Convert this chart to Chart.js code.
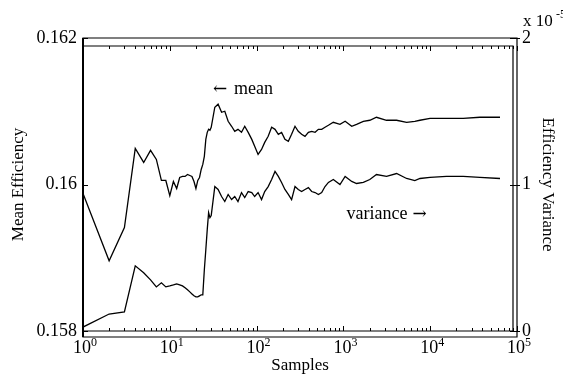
<!DOCTYPE html>
<html>
<head>
<meta charset="utf-8">
<script src="https://cdn.jsdelivr.net/npm/chart.js@4"></script>
<style>
  body { margin: 0; background: #fff; }
  canvas { display: block; }
</style>
</head>
<body>
<canvas id="chart" width="563" height="377"></canvas>
<script>
/* Data */
const samples = [1, 2, 3, 4, 5, 6, 7, 8, 9, 10, 11, 12, 13, 14, 15, 16, 17, 18, 19, 20,
  21, 22, 23, 24, 25, 26, 27, 28, 29, 30, 33, 36, 39.5, 43, 47, 51.5, 56, 61, 67, 73,
  80, 88, 95, 104, 114, 124, 136, 149, 163, 178, 194, 212, 232, 253, 277, 302, 330, 361, 395, 431,
  472, 515, 562, 614, 672, 765, 913, 1047, 1247, 1419, 1697, 2015, 2405, 3140, 4100, 5350, 6650, 7620, 9960, 15400,
  24000, 37400, 63700];

const meanEff = [0.159877, 0.158959, 0.159411, 0.160493, 0.160301, 0.160466, 0.160342, 0.160055, 0.160055, 0.159849,
  0.160041, 0.159945, 0.160096, 0.160110, 0.160110, 0.160137, 0.160123, 0.160110, 0.160041, 0.159945,
  0.160055, 0.160096, 0.160205, 0.160274, 0.160384, 0.160616, 0.160712, 0.160753, 0.160740, 0.160781,
  0.161055, 0.161096, 0.160986, 0.161000, 0.160863, 0.160795, 0.160726, 0.160753, 0.160712, 0.160795,
  0.160712, 0.160616, 0.160521, 0.160411, 0.160479, 0.160575, 0.160658, 0.160781, 0.160753, 0.160685,
  0.160712, 0.160616, 0.160589, 0.160685, 0.160795, 0.160726, 0.160685, 0.160658, 0.160712, 0.160726,
  0.160712, 0.160753, 0.160753, 0.160781, 0.160808, 0.160849, 0.160822, 0.160863, 0.160795, 0.160822,
  0.160863, 0.160877, 0.160918, 0.160877, 0.160877, 0.160849, 0.160863, 0.160877, 0.160904, 0.160904,
  0.160904, 0.160918, 0.160918];

/* variance, in units of 1e-5 */
const varEff = [0.027, 0.116, 0.130, 0.445, 0.397, 0.349, 0.301, 0.329, 0.301, 0.308,
  0.315, 0.322, 0.315, 0.308, 0.295, 0.281, 0.267, 0.253, 0.240, 0.233,
  0.233, 0.240, 0.247, 0.247, 0.418, 0.555, 0.692, 0.808, 0.774, 0.788,
  0.986, 0.966, 0.918, 0.884, 0.932, 0.897, 0.918, 0.884, 0.945, 0.911,
  0.952, 0.945, 0.918, 0.945, 0.897, 0.952, 0.986, 1.034, 1.089, 1.055,
  1.014, 0.966, 0.932, 0.897, 0.986, 0.966, 0.952, 0.966, 0.979, 0.952,
  0.945, 0.932, 0.945, 0.986, 1.014, 1.034, 1.000, 1.055, 1.021, 1.007,
  1.014, 1.034, 1.068, 1.055, 1.075, 1.041, 1.027, 1.041, 1.048, 1.055,
  1.055, 1.048, 1.041];

/* Tick labels */
const sampleTicks = [1, 10, 100, 1000, 10000, 100000];
const meanTicks = [0.158, 0.16, 0.162];
const varTicks = [0, 1, 2];

const FONT = "Liberation Serif";

/* Frame, inward ticks, superscript labels and annotations (MATLAB look) */
const matlabPlugin = {
  id: "matlab",
  afterDraw(chart) {
    const ctx = chart.ctx;
    const a = chart.chartArea;
    const xs = chart.scales.x;
    const yl = chart.scales.yMean;
    const yr = chart.scales.yVar;
    ctx.save();
    ctx.strokeStyle = "#000";
    ctx.lineWidth = 1.2;

    /* two overlapping axes boxes */
    ctx.beginPath();
    ctx.moveTo(a.left, a.top);
    ctx.lineTo(a.right, a.top);
    ctx.lineTo(a.right, a.bottom + 6);
    ctx.lineTo(a.left, a.bottom + 6);
    ctx.closePath();
    ctx.moveTo(a.left, a.top + 8);
    ctx.lineTo(a.right - 4, a.top + 8);
    ctx.lineTo(a.right - 4, a.bottom);
    ctx.lineTo(a.left, a.bottom);
    ctx.stroke();
    ctx.lineWidth = 2;
    ctx.beginPath();
    ctx.moveTo(a.left, a.top);
    ctx.lineTo(a.left, a.bottom + 6);
    ctx.stroke();

    /* log ticks on x, inward at bottom and top */
    ctx.lineWidth = 1;
    ctx.beginPath();
    for (let d = 0; d < 5; d++) {
      for (let m = 1; m <= 10; m++) {
        const px = Math.round(xs.getPixelForValue(m * Math.pow(10, d))) + 0.5;
        const len = (m === 1 || m === 10) ? 5 : 3;
        ctx.moveTo(px, a.bottom);
        ctx.lineTo(px, a.bottom - len);
        ctx.moveTo(px, a.top + 8);
        ctx.lineTo(px, a.top + 8 + len);
      }
    }
    /* y ticks */
    meanTicks.forEach((v) => {
      const py = Math.round(yl.getPixelForValue(v)) + 0.5;
      ctx.moveTo(a.left, py);
      ctx.lineTo(a.left + 5, py);
    });
    varTicks.forEach((v) => {
      const py = Math.round(yr.getPixelForValue(v)) + 0.5;
      ctx.moveTo(a.right + 3, py);
      ctx.lineTo(a.right - 7, py);
    });
    ctx.stroke();

    /* x tick labels: 10 with superscript exponent */
    ctx.fillStyle = "#000";
    ctx.textBaseline = "alphabetic";
    sampleTicks.forEach((v, i) => {
      const px = xs.getPixelForValue(v);
      ctx.font = "18px '" + FONT + "'";
      ctx.textAlign = "center";
      ctx.fillText("10", px - 1, a.bottom + 22);
      ctx.font = "12px '" + FONT + "'";
      ctx.textAlign = "left";
      ctx.fillText(String(i), px + 8, a.bottom + 15);
    });

    /* right axis multiplier */
    ctx.font = "17px '" + FONT + "'";
    ctx.textAlign = "left";
    ctx.fillText("x 10", a.right + 6, a.top - 12);
    ctx.font = "12px '" + FONT + "'";
    ctx.fillText("-5", a.right + 39, a.top - 20);

    /* annotations, arrows in a wider glyph */
    ctx.textBaseline = "middle";
    const mx = xs.getPixelForValue(31.5);
    const my = yl.getPixelForValue(0.1613);
    ctx.font = "17px 'DejaVu Serif'";
    ctx.fillText("\u2190", mx, my);
    ctx.font = "18px '" + FONT + "'";
    ctx.fillText("mean", mx + 21, my);
    const vx = xs.getPixelForValue(2000);
    const vy = yr.getPixelForValue(0.795);
    ctx.fillText("variance", vx - 23, vy);
    ctx.font = "17px 'DejaVu Serif'";
    ctx.fillText("\u2192", vx + 43, vy);
    ctx.restore();
  },
};

new Chart(document.getElementById("chart"), {
  type: "line",
  plugins: [matlabPlugin],
  data: {
    datasets: [
      {
        label: "mean",
        yAxisID: "yMean",
        data: samples.map((n, i) => ({ x: n, y: meanEff[i] })),
        borderColor: "#000",
        borderWidth: 1.3,
        pointRadius: 0,
        tension: 0,
      },
      {
        label: "variance",
        yAxisID: "yVar",
        data: samples.map((n, i) => ({ x: n, y: varEff[i] })),
        borderColor: "#000",
        borderWidth: 1.3,
        pointRadius: 0,
        tension: 0,
      },
    ],
  },
  options: {
    responsive: false,
    animation: false,
    events: [],
    layout: { padding: { top: 38, left: 0, right: 0, bottom: 0 } },
    plugins: {
      legend: { display: false },
      tooltip: { enabled: false },
    },
    scales: {
      x: {
        type: "logarithmic",
        min: 1,
        max: 100000,
        afterBuildTicks: (s) => { s.ticks = sampleTicks.map((v) => ({ value: v })); },
        afterFit: (s) => { s.height = 46; },
        grid: { display: false, drawTicks: false },
        border: { display: false },
        ticks: { display: false },
        title: {
          display: true,
          text: "Samples",
          color: "#000",
          font: { family: FONT, size: 17 },
          padding: { top: 0, bottom: 1 },
        },
      },
      yMean: {
        type: "linear",
        position: "left",
        min: 0.158,
        max: 0.162,
        afterBuildTicks: (s) => { s.ticks = meanTicks.map((v) => ({ value: v })); },
        afterFit: (s) => { s.width = 83; },
        grid: { display: false, drawTicks: false },
        border: { display: false },
        ticks: {
          color: "#000",
          padding: 6,
          font: { family: FONT, size: 18 },
          callback: (v) => String(+v.toFixed(3)),
        },
        title: {
          display: true,
          text: "Mean Efficiency",
          color: "#000",
          font: { family: FONT, size: 17 },
          padding: { top: 8, bottom: 0 },
        },
      },
      yVar: {
        type: "linear",
        position: "right",
        min: 0,
        max: 2,
        afterBuildTicks: (s) => { s.ticks = varTicks.map((v) => ({ value: v })); },
        afterFit: (s) => { s.width = 46; },
        grid: { display: false, drawTicks: false },
        border: { display: false },
        ticks: {
          color: "#000",
          padding: 5,
          font: { family: FONT, size: 18 },
          callback: (v) => String(v),
        },
        title: {
          display: true,
          text: "Efficiency Variance",
          color: "#000",
          font: { family: FONT, size: 17 },
          padding: { top: 5, bottom: 0 },
        },
      },
    },
  },
});
</script>
</body>
</html>
